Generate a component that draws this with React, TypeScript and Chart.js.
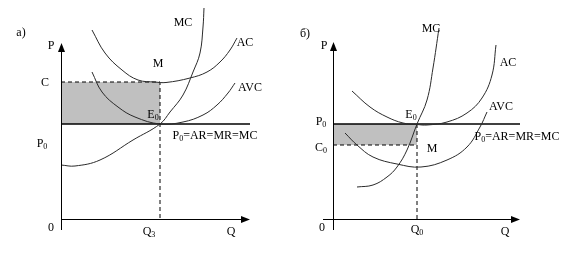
import React, { useEffect, useRef } from "react";
import { Chart, registerables } from "chart.js";
Chart.register(...registerables);

type Pt = [number, number];
type Label = { t: string; q: number; p: number };

// ---------- Panel а) ----------
const A_MC: Pt[] = [[0, 5.4], [1.4, 5.3], [3.9, 5.9], [7.2, 7.9], [9.9, 9.5], [10.9, 10.7], [12.2, 12.4], [13.2, 14.7], [13.9, 16.6], [14.2, 19.2], [14.3, 21.1]];
const A_AC: Pt[] = [[3.1, 18.9], [4.4, 16.6], [6.1, 14.9], [7.7, 13.9], [9.4, 13.7], [10.5, 13.65], [12.9, 14.1], [14.6, 14.7], [15.9, 15.7], [16.9, 16.9], [17.6, 18.1]];
const A_AVC: Pt[] = [[3.1, 14.7], [4.1, 12.7], [5.7, 11.2], [7.4, 10.2], [9.9, 9.5], [12.2, 9.7], [14.2, 10.4], [15.6, 11.4], [16.7, 12.6], [17.4, 13.6]];
const A_P0 = 9.5;
const A_C = 13.7;
const A_Q3 = 9.9;
const A_Q_END = 18.9;
const A_P_END = 17.6;
const A_LABELS: Label[] = [
  { t: "а)", q: -4.0, p: 18.7 },
  { t: "P", q: -1.0, p: 17.4 },
  { t: "C", q: -1.6, p: 13.7 },
  { t: "P_0", q: -1.9, p: 7.6 },
  { t: "0", q: -1.0, p: -0.8 },
  { t: "Q_3", q: 8.8, p: -1.2 },
  { t: "Q", q: 17.0, p: -1.2 },
  { t: "M", q: 9.7, p: 15.6 },
  { t: "E_0", q: 9.2, p: 10.5 },
  { t: "MC", q: 12.2, p: 19.7 },
  { t: "AC", q: 18.4, p: 17.7 },
  { t: "AVC", q: 18.9, p: 13.2 },
  { t: "P_0=AR=MR=MC", q: 15.4, p: 8.4 },
];

// ---------- Panel б) ----------
const B_MC: Pt[] = [[2.4, 3.2], [4.0, 3.4], [5.4, 4.2], [6.4, 5.2], [7.4, 6.9], [8.4, 9.5], [9.4, 11.9], [10.0, 15.1], [10.6, 19.1]];
const B_AC: Pt[] = [[1.9, 12.8], [3.7, 11.2], [5.4, 10.2], [7.0, 9.6], [8.4, 9.45], [9.4, 9.4], [11.4, 9.7], [13.4, 10.6], [14.9, 12.1], [15.9, 14.4], [16.3, 17.4]];
const B_AVC: Pt[] = [[1.2, 8.6], [2.4, 7.4], [4.0, 6.2], [6.4, 5.5], [8.8, 5.2], [11.4, 5.9], [13.4, 7.2], [14.7, 9.2], [15.4, 10.7]];
const B_P0 = 9.5;
const B_C0 = 7.4;
const B_Q0 = 8.4;
const B_Q_END = 18.7;
const B_P_END = 17.7;
const B_LABELS: Label[] = [
  { t: "б)", q: -2.8, p: 18.6 },
  { t: "P", q: -0.9, p: 17.4 },
  { t: "P_0", q: -1.2, p: 9.8 },
  { t: "C_0", q: -1.2, p: 7.2 },
  { t: "0", q: -1.1, p: -0.8 },
  { t: "Q_0", q: 8.4, p: -1.0 },
  { t: "Q", q: 17.2, p: -1.2 },
  { t: "E_0", q: 7.8, p: 10.5 },
  { t: "M", q: 9.9, p: 7.1 },
  { t: "MC", q: 9.8, p: 19.1 },
  { t: "AC", q: 17.5, p: 15.7 },
  { t: "AVC", q: 16.8, p: 11.3 },
  { t: "P_0=AR=MR=MC", q: 18.4, p: 8.3 },
];

const FONT = "'Liberation Serif', 'Times New Roman', serif";
const CURVE = "#2a2a2a";

function pts(a: Pt[]) {
  return a.map(([x, y]) => ({ x, y }));
}

function segs(t: string) {
  const out: { s: string; sub: boolean }[] = [];
  let i = 0;
  let buf = "";
  while (i < t.length) {
    if (t[i] === "_" && i + 1 < t.length) {
      if (buf) out.push({ s: buf, sub: false });
      buf = "";
      out.push({ s: t[i + 1], sub: true });
      i += 2;
    } else {
      buf += t[i];
      i++;
    }
  }
  if (buf) out.push({ s: buf, sub: false });
  return out;
}

const diagramPlugin = {
  id: "diagram",
  afterDatasetsDraw(chart: any, _a: any, opts: any) {
    const ctx: CanvasRenderingContext2D = chart.ctx;
    const xs = chart.scales.x;
    const ys = chart.scales.y;
    const X = (q: number) => xs.getPixelForValue(q);
    const Y = (p: number) => ys.getPixelForValue(p);
    ctx.save();
    ctx.strokeStyle = "#000";
    ctx.fillStyle = "#000";
    ctx.lineWidth = 1;
    const ox = Math.round(X(0)) + 0.5;
    const oy = Math.round(Y(0)) + 0.5;
    const yTop = Y(opts.pEnd);
    ctx.beginPath();
    ctx.moveTo(ox, Y(opts.pStart));
    ctx.lineTo(ox, yTop + 4);
    ctx.stroke();
    ctx.beginPath();
    ctx.moveTo(ox, yTop);
    ctx.lineTo(ox - 3.5, yTop + 9);
    ctx.lineTo(ox + 3.5, yTop + 9);
    ctx.closePath();
    ctx.fill();
    const xEnd = X(opts.qEnd);
    ctx.beginPath();
    ctx.moveTo(X(opts.qStart), oy);
    ctx.lineTo(xEnd - 4, oy);
    ctx.stroke();
    ctx.beginPath();
    ctx.moveTo(xEnd, oy);
    ctx.lineTo(xEnd - 9, oy - 3.5);
    ctx.lineTo(xEnd - 9, oy + 3.5);
    ctx.closePath();
    ctx.fill();
    ctx.textBaseline = "alphabetic";
    ctx.textAlign = "left";
    for (const l of opts.labels as Label[]) {
      const parts = segs(l.t);
      let w = 0;
      for (const s of parts) {
        ctx.font = (s.sub ? "8px " : "12px ") + FONT;
        w += ctx.measureText(s.s).width;
      }
      let x = X(l.q) - w / 2;
      const base = Y(l.p) + 4;
      for (const s of parts) {
        ctx.font = (s.sub ? "8px " : "12px ") + FONT;
        ctx.fillText(s.s, x, s.sub ? base + 2 : base);
        x += ctx.measureText(s.s).width;
      }
    }
    ctx.restore();
  },
};

function line(data: { x: number; y: number }[], extra: any = {}) {
  return {
    data,
    showLine: true,
    borderColor: CURVE,
    borderWidth: 1,
    pointRadius: 0,
    pointHoverRadius: 0,
    fill: false,
    tension: 0.4,
    clip: false,
    order: 1,
    ...extra,
  };
}

function baseConfig(datasets: any[], padLeft: number, padRight: number, axis: any) {
  return {
    type: "scatter",
    data: { datasets },
    plugins: [diagramPlugin],
    options: {
      animation: false,
      responsive: false,
      events: [],
      layout: { padding: { left: padLeft, right: padRight, top: 0, bottom: 36 } },
      scales: {
        x: { type: "linear", display: false, min: 0, max: 20 },
        y: { type: "linear", display: false, min: 0, max: 21.9 },
      },
      plugins: { legend: { display: false }, tooltip: { enabled: false }, diagram: axis },
    },
  } as any;
}

const STRAIGHT = { tension: 0 };

function configA() {
  const ds = [
    line(pts([[0, A_C], [A_Q3, A_C]]), { ...STRAIGHT, fill: { value: A_P0 }, backgroundColor: "#c0c0c0", borderWidth: 0, order: 10 }),
    line(pts([[0, A_C], [A_Q3, A_C], [A_Q3, 0]]), { ...STRAIGHT, borderColor: "#000", borderDash: [4, 3], order: 5 }),
    line(pts([[0, A_P0], [A_Q_END, A_P0]]), { ...STRAIGHT, borderColor: "#000", borderWidth: 1.3, order: 4 }),
    line(pts(A_AC)),
    line(pts(A_AVC)),
    line(pts(A_MC)),
  ];
  return baseConfig(ds, 61, 29, { labels: A_LABELS, pStart: -1.1, pEnd: A_P_END, qStart: 0, qEnd: A_Q_END });
}

function configB() {
  const ds = [
    line(pts([[0, B_P0], [B_Q0, B_P0]]), { ...STRAIGHT, fill: { value: B_C0 }, backgroundColor: "#c0c0c0", borderWidth: 0, order: 10 }),
    line(pts([[0, B_C0], [B_Q0, B_C0]]), { ...STRAIGHT, borderColor: "#000", borderDash: [4, 3], order: 5 }),
    line(pts([[B_Q0, B_P0], [B_Q0, 0]]), { ...STRAIGHT, borderColor: "#000", borderDash: [4, 3], order: 5 }),
    line(pts([[0, B_P0], [B_Q_END, B_P0]]), { ...STRAIGHT, borderColor: "#000", borderWidth: 1.3, order: 4 }),
    line(pts(B_AC)),
    line(pts(B_AVC)),
    line(pts(B_MC)),
  ];
  return baseConfig(ds, 43, 46, { labels: B_LABELS, pStart: -1.1, pEnd: B_P_END, qStart: -1.0, qEnd: B_Q_END });
}

function Panel({ make, left, width }: { make: () => any; left: number; width: number }) {
  const ref = useRef<HTMLCanvasElement>(null);
  useEffect(() => {
    const chart = new Chart(ref.current as HTMLCanvasElement, make());
    return () => chart.destroy();
  }, []);
  return (
    <canvas
      ref={ref}
      width={width}
      height={255}
      style={{ position: "absolute", left, top: 0, width, height: 255 }}
    />
  );
}

export default function App() {
  return (
    <div style={{ position: "fixed", left: 0, top: 0, width: 579, height: 255, background: "#fff" }}>
      <Panel make={configA} left={0} width={290} />
      <Panel make={configB} left={290} width={289} />
    </div>
  );
}
